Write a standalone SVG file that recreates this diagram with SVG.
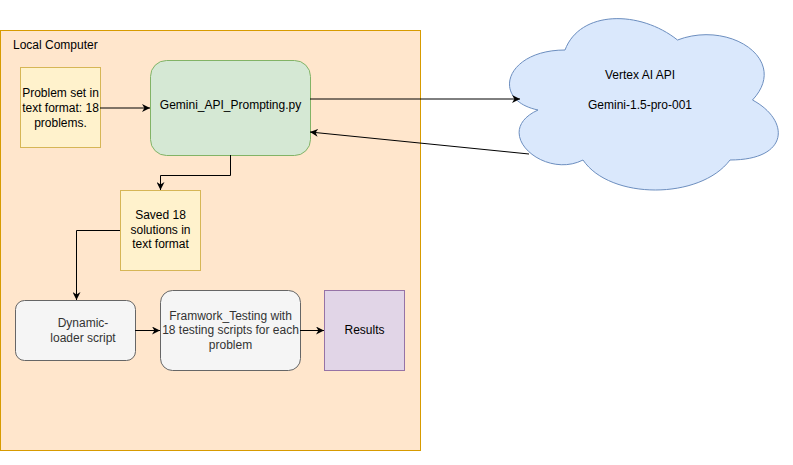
<svg xmlns="http://www.w3.org/2000/svg" width="793" height="465" viewBox="0 0 793 465">
<style>
text{font-family:"Liberation Sans",Arial,sans-serif;font-size:12px;fill:#000;text-anchor:middle}
.gray{fill:#333333}
.note{fill:#fff2cc;stroke:#d6b656}
.grey{fill:#f5f5f5;stroke:#666666}
.edge{fill:none;stroke:#000;stroke-width:1}
</style>
<defs>
<marker id="arr" viewBox="0 0 10 10" refX="10" refY="5" markerWidth="8" markerHeight="8" markerUnits="userSpaceOnUse" orient="auto">
<path d="M0,0 L10,5 L0,10 L3,5 Z" fill="#000"/>
</marker>
</defs>
<rect width="793" height="465" fill="#fff"/>
<g id="local-computer">
<rect x="0.5" y="30.5" width="420" height="420" fill="#ffe6cc" stroke="#d79b00"/>
<text x="13" y="49" style="text-anchor:start">Local Computer</text>
</g>
<g id="problem-set">
<rect x="20.5" y="67.5" width="80" height="80" class="note"/>
<text x="60.5" y="97">Problem set in</text>
<text x="60.5" y="112">text format: 18</text>
<text x="60.5" y="127">problems.</text>
</g>
<g id="gemini-prompting">
<rect x="150.5" y="60.5" width="160" height="95" rx="16" fill="#d5e8d4" stroke="#82b366"/>
<text x="230.5" y="109">Gemini_API_Prompting.py</text>
</g>
<g id="saved-solutions">
<rect x="120.5" y="190.5" width="80" height="80" class="note"/>
<text x="160.5" y="219">Saved 18</text>
<text x="160.5" y="234">solutions in</text>
<text x="160.5" y="248">text format</text>
</g>
<g id="dynamic-loader">
<rect x="15.5" y="300.5" width="120" height="60" rx="9" class="grey"/>
<text x="83" y="327" class="gray">Dynamic-</text>
<text x="83" y="342" class="gray">loader script</text>
</g>
<g id="framework-testing">
<rect x="160.5" y="290.5" width="140" height="80" rx="12" class="grey"/>
<text x="230.5" y="320" class="gray">Framwork_Testing with</text>
<text x="230.5" y="334" class="gray">18 testing scripts for each</text>
<text x="230.5" y="349" class="gray">problem</text>
</g>
<g id="results">
<rect x="324.5" y="290.5" width="80" height="80" fill="#e1d5e7" stroke="#9673a6"/>
<text x="364.5" y="334">Results</text>
</g>
<g id="vertex-cloud">
<path d="M565,50 C505,50 490,100 538,110 C490,132 544,180 583,160 C610,200 700,200 730,160 C790,160 790,120 752.5,100 C790,60 730,20 677.5,40 C640,10 580,10 565,50 Z" fill="#dae8fc" stroke="#6c8ebf"/>
<text x="640" y="79">Vertex AI API</text>
<text x="640" y="109">Gemini-1.5-pro-001</text>
</g>
<g id="connectors">
<path class="edge" d="M100,108 L150,108" marker-end="url(#arr)"/>
<path class="edge" d="M310,99 L520,99" marker-end="url(#arr)"/>
<path class="edge" d="M529,154 L310,132" marker-end="url(#arr)"/>
<path class="edge" d="M230.5,155 L230.5,175.5 L160.5,175.5 L160.5,190" marker-end="url(#arr)"/>
<path class="edge" d="M120,230.5 L76.5,230.5 L76.5,300" marker-end="url(#arr)"/>
<path class="edge" d="M135,330.5 L160,330.5" marker-end="url(#arr)"/>
<path class="edge" d="M300,330.5 L324,330.5" marker-end="url(#arr)"/>
</g>
</svg>
